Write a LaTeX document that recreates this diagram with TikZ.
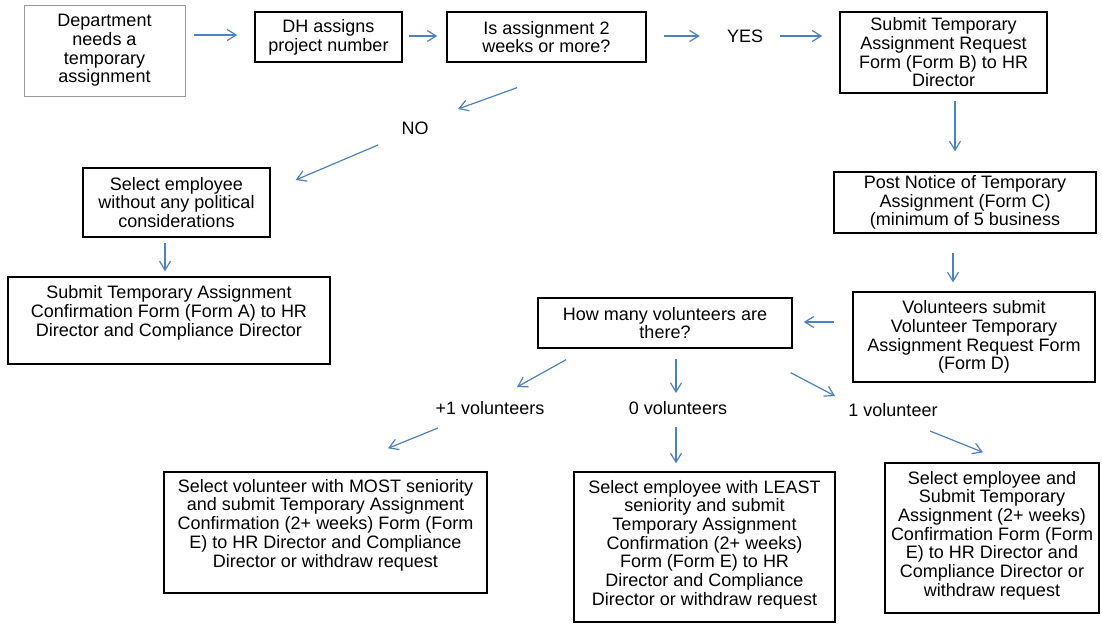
\documentclass[tikz,border=0pt]{standalone}
\usepackage{fontspec}
\setmainfont{Liberation Sans}
\usetikzlibrary{arrows.meta}
\definecolor{flowblue}{RGB}{79,129,189}

\begin{document}
\begin{tikzpicture}[x=1pt, y=-1pt,
  bx/.style={draw, line width=1.4pt, inner sep=0pt, align=center, font=\fontsize{18}{18.7}\selectfont},
  lbl/.style={inner sep=0pt, font=\fontsize{18}{18.7}\selectfont},
  ar/.style={draw=flowblue, line width=1.2pt, -{Straight Barb[length=9pt,width=11pt]}}]
\useasboundingbox[fill=white] (0,0) rectangle (1102,624);
% top row
\node[bx, draw=gray!80, line width=0.9pt, minimum width=161, minimum height=91] (dept) at (104.5,50.5) {Department\\needs a\\temporary\\assignment};
\node[bx, minimum width=147, minimum height=50] (dh) at (328.5,37) {DH assigns\\project number};
\node[bx, minimum width=199, minimum height=50] (isq) at (546.5,37) {Is assignment 2\\weeks or more?};
\node[lbl] (yes) at (745,36) {YES};
\node[bx, minimum width=207, minimum height=81] (formB) at (943.5,52.5) {Submit Temporary\\Assignment Request\\Form (Form B) to HR\\Director};
% short path
\node[lbl] (no) at (415,128) {NO};
\node[bx, minimum width=187, minimum height=69] (sel) at (176.5,202.5) {Select employee\\without any political\\considerations};
\node[bx, minimum width=322, minimum height=87] (formA) at (169,320.5) {Submit Temporary Assignment\\Confirmation Form (Form A) to HR\\Director and Compliance Director\\ \mbox{}};
% long path
\node[bx, minimum width=262, minimum height=61] (post) at (965,202.5) {Post Notice of Temporary\\Assignment (Form C)\\(minimum of 5 business};
\node[bx, minimum width=242, minimum height=90] (vol) at (974,337) {Volunteers submit\\Volunteer Temporary\\Assignment Request Form\\(Form D)};
\node[bx, minimum width=254, minimum height=50] (how) at (665,323) {How many volunteers are\\there?};
\node[lbl] (plus) at (490,408) {+1 volunteers};
\node[lbl] (zero) at (678,408) {0 volunteers};
\node[lbl] (one) at (893,410) {1 volunteer};
\node[bx, minimum width=323, minimum height=121] (formEmost) at (325.5,532.5) {Select volunteer with MOST seniority\\and submit Temporary Assignment\\Confirmation (2+ weeks) Form (Form\\E) to HR Director and Compliance\\Director or withdraw request\\ \mbox{}};
\node[bx, minimum width=261, minimum height=150] (formEleast) at (704.5,547) {Select employee with LEAST\\seniority and submit\\Temporary Assignment\\Confirmation (2+ weeks)\\Form (Form E) to HR\\Director and Compliance\\Director or withdraw request\\[-10pt] \mbox{}};
\node[bx, minimum width=214, minimum height=150] (formEone) at (992,538) {Select employee and\\Submit Temporary\\Assignment (2+ weeks)\\Confirmation Form (Form\\E) to HR Director and\\Compliance Director or\\withdraw request\\[-10pt] \mbox{}};
% arrows
\draw[ar] ([shift={(9,-15.5)}]dept.east) -- ([shift={(-17,-2)}]dh.west);
\draw[ar] ([shift={(6,-1)}]dh.east) -- ([shift={(-9,-1)}]isq.west);
\draw[ar] ([shift={(17,-1)}]isq.east) -- ([shift={(-27,0)}]yes.west);
\draw[ar] ([shift={(17,0)}]yes.east) -- ([shift={(-17,-16.5)}]formB.west);
\draw[ar] ([shift={(11.5,7)}]formB.south) -- ([shift={(-10,-20)}]post.north);
\draw[ar] ([shift={(-12,19)}]post.south) -- ([shift={(-21,-9)}]vol.north);
\draw[ar] ([shift={(-18,-15)}]vol.west) -- ([shift={(11,-1)}]how.east);
\draw[ar] ([shift={(-29.5,25)}]isq.south) -- ([shift={(43,-19)}]no.center);
\draw[ar] ([shift={(-37,17)}]no.center) -- ([shift={(25,-22.5)}]sel.east);
\draw[ar] ([shift={(-11.5,5)}]sel.south) -- ([shift={(-4,-5)}]formA.north);
\draw[ar] ([shift={(-99,11)}]how.south) -- ([shift={(27,-21)}]plus.center);
\draw[ar] ([shift={(-52,20)}]plus.center) -- ([shift={(62.5,-23)}]formEmost.north);
\draw[ar] ([shift={(11,10)}]how.south) -- ([shift={(-2,-15)}]zero.center);
\draw[ar] ([shift={(-2,19)}]zero.center) -- ([shift={(-28.5,-8)}]formEleast.north);
\draw[ar] ([shift={(-2,24)}]how.south east) -- ([shift={(-58,-14)}]one.center);
\draw[ar] ([shift={(37,21)}]one.center) -- ([shift={(-9,-10)}]formEone.north);
\end{tikzpicture}
\end{document}
